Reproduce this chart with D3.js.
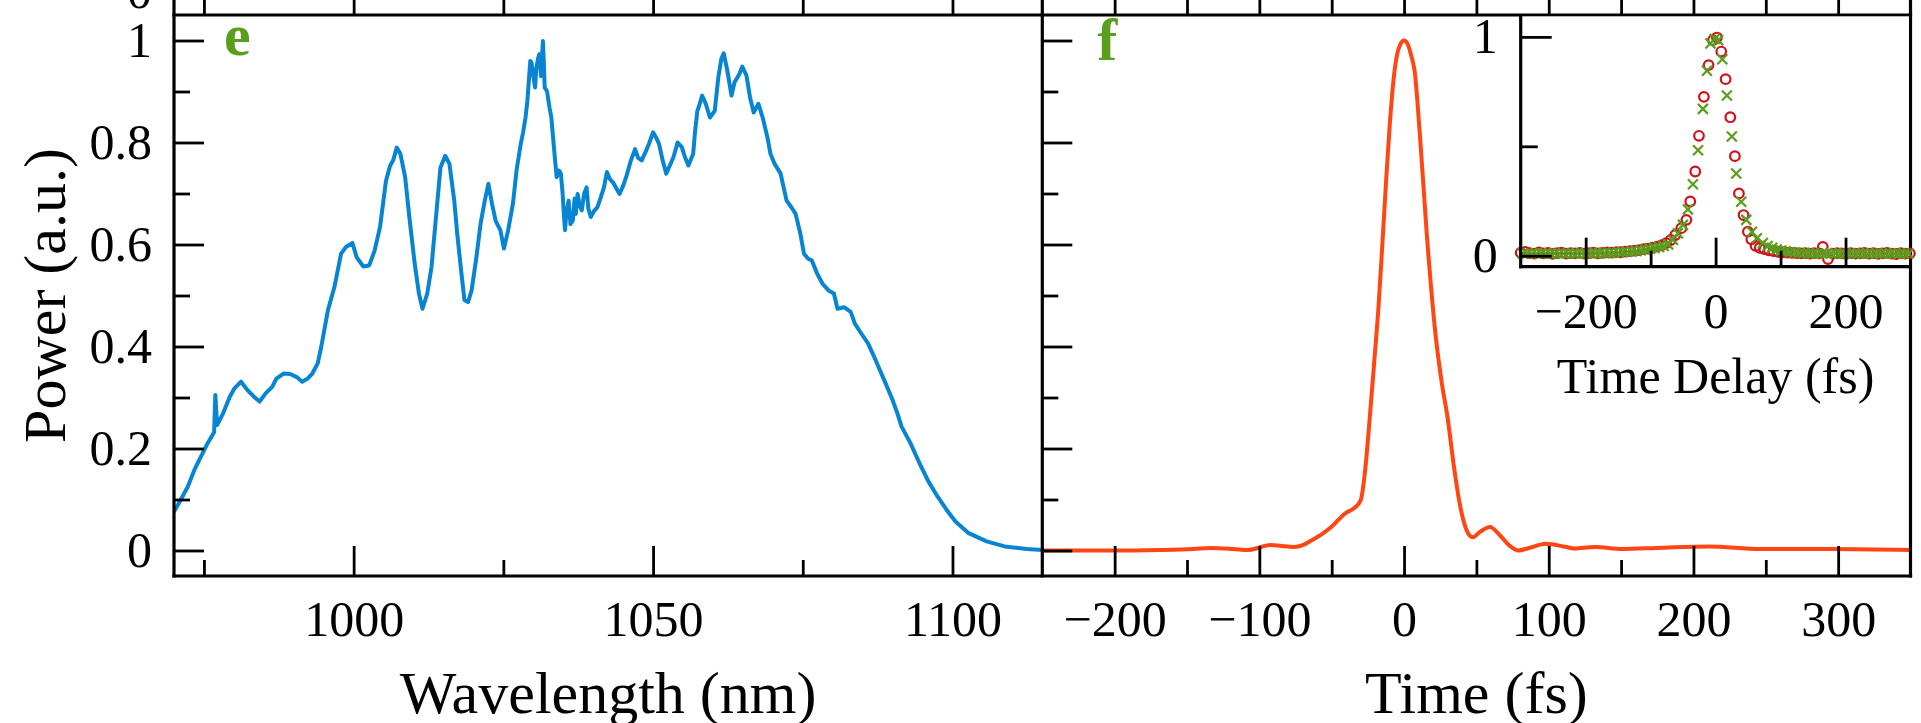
<!DOCTYPE html>
<html>
<head>
<meta charset="utf-8">
<script src="https://cdn.jsdelivr.net/npm/d3@7"></script>
<style>
  html, body { margin: 0; padding: 0; background: #fff; }
  svg { display: block; font-family: "Liberation Serif", "Times New Roman", serif; }
</style>
</head>
<body>
<svg id="chart" width="1921" height="723"></svg>
<script>
// panel e: spectrum, [wavelength nm, power a.u.]
const spectrum = [
  [970.0, 0.076], [971.1, 0.099], [972.3, 0.125], [973.4, 0.158], [974.5, 0.184], [975.6, 0.210],
  [976.4, 0.226], [976.7, 0.232], [976.9, 0.305], [977.2, 0.246], [978.2, 0.269], [979.3, 0.301],
  [980.1, 0.318], [981.2, 0.331], [982.3, 0.314], [983.4, 0.301], [984.3, 0.292], [985.3, 0.308],
  [986.4, 0.321], [987.1, 0.337], [988.3, 0.347], [989.4, 0.346], [990.5, 0.340], [991.4, 0.331],
  [992.3, 0.337], [993.1, 0.347], [994.0, 0.367], [994.6, 0.400], [995.7, 0.471], [996.8, 0.517],
  [997.9, 0.582], [998.7, 0.595], [999.8, 0.603], [1000.5, 0.575], [1001.6, 0.557], [1002.6, 0.559],
  [1003.5, 0.588], [1004.4, 0.634], [1005.4, 0.725], [1006.1, 0.755], [1006.6, 0.765], [1007.2, 0.790],
  [1007.8, 0.778], [1008.6, 0.732], [1009.3, 0.654], [1010.2, 0.562], [1010.9, 0.504], [1011.5, 0.474],
  [1012.3, 0.504], [1013.0, 0.556], [1013.8, 0.660], [1014.5, 0.751], [1015.3, 0.774], [1016.0, 0.758],
  [1016.8, 0.686], [1017.3, 0.621], [1018.0, 0.543], [1018.5, 0.491], [1019.1, 0.487], [1019.7, 0.510],
  [1020.5, 0.575], [1021.2, 0.641], [1021.9, 0.686], [1022.5, 0.719], [1023.1, 0.680], [1023.7, 0.647],
  [1024.5, 0.628], [1025.1, 0.592], [1025.8, 0.628], [1026.6, 0.680], [1027.2, 0.745], [1027.9, 0.797],
  [1028.3, 0.820], [1028.7, 0.849], [1029.0, 0.880], [1029.3, 0.928], [1029.5, 0.960], [1029.7, 0.957],
  [1030.0, 0.930], [1030.3, 0.908], [1030.5, 0.945], [1030.8, 0.965], [1031.0, 0.973], [1031.3, 0.930],
  [1031.6, 0.999], [1031.75, 0.960], [1031.9, 0.908], [1032.3, 0.900], [1032.7, 0.869], [1033.0, 0.850],
  [1033.3, 0.810], [1033.6, 0.770], [1033.9, 0.732], [1034.3, 0.745], [1034.6, 0.739], [1034.9, 0.700],
  [1035.1, 0.660], [1035.3, 0.628], [1035.5, 0.660], [1035.9, 0.686], [1036.2, 0.640], [1036.6, 0.647],
  [1036.9, 0.690], [1037.1, 0.660], [1037.4, 0.699], [1037.8, 0.675], [1038.1, 0.667], [1038.5, 0.700],
  [1038.9, 0.712], [1039.2, 0.670], [1039.6, 0.654], [1040.1, 0.665], [1040.7, 0.673], [1041.2, 0.690],
  [1041.8, 0.712], [1042.3, 0.742], [1042.8, 0.728], [1043.3, 0.722], [1044.4, 0.699], [1045.0, 0.715],
  [1045.5, 0.732], [1046.3, 0.765], [1047.0, 0.787], [1047.5, 0.770], [1048.1, 0.765], [1048.7, 0.780],
  [1049.3, 0.797], [1050.0, 0.820], [1050.5, 0.810], [1051.0, 0.797], [1051.6, 0.765], [1052.2, 0.739],
  [1052.8, 0.755], [1053.4, 0.771], [1054.1, 0.800], [1054.8, 0.791], [1055.3, 0.772], [1055.9, 0.755],
  [1056.7, 0.778], [1057.0, 0.820], [1057.4, 0.862], [1057.7, 0.872], [1058.2, 0.892], [1058.8, 0.876],
  [1059.5, 0.849], [1060.3, 0.862], [1060.9, 0.928], [1061.4, 0.964], [1061.8, 0.975], [1062.4, 0.941],
  [1063.1, 0.892], [1063.6, 0.918], [1064.4, 0.934], [1064.9, 0.949], [1065.6, 0.931], [1066.2, 0.888],
  [1066.8, 0.859], [1067.6, 0.876], [1068.3, 0.849], [1069.1, 0.810], [1069.6, 0.778], [1070.3, 0.758],
  [1071.3, 0.739], [1071.8, 0.712], [1072.3, 0.686], [1073.1, 0.673], [1073.8, 0.660], [1074.6, 0.621],
  [1075.2, 0.582], [1075.9, 0.572], [1076.5, 0.569], [1077.4, 0.543], [1078.3, 0.523], [1079.3, 0.510],
  [1080.2, 0.504], [1080.8, 0.474], [1081.9, 0.477], [1083.0, 0.468], [1083.7, 0.445], [1084.8, 0.425],
  [1085.9, 0.406], [1087.1, 0.375], [1088.6, 0.334], [1089.9, 0.298], [1090.8, 0.269], [1091.5, 0.243],
  [1093.0, 0.210], [1094.5, 0.171], [1096.0, 0.135], [1097.5, 0.106], [1099.0, 0.080], [1100.5, 0.057],
  [1102.7, 0.034], [1105.7, 0.018], [1108.7, 0.008], [1112.4, 0.003], [1115.0, 0.001]
];

// panel f: retrieved pulse, [time fs, power a.u.]
const pulse = [
  [-250, 0.000], [-237.8, 0.000], [-200, 0.000], [-170, 0.001], [-145.6, 0.003], [-134, 0.005],
  [-118, 0.003], [-107.6, 0.001], [-100, 0.006], [-92.6, 0.011], [-84.5, 0.009], [-76.5, 0.007],
  [-69.6, 0.011], [-65, 0.018], [-55.8, 0.034], [-49.9, 0.047], [-40.6, 0.073], [-34.5, 0.083],
  [-29.9, 0.099], [-26.8, 0.160], [-23.7, 0.260], [-20.6, 0.370], [-17.6, 0.480], [-15, 0.600],
  [-12.5, 0.720], [-10, 0.830], [-7, 0.930], [-5, 0.970], [-2.5, 0.993], [0, 1.000], [2.5, 0.993],
  [5, 0.970], [7.3, 0.940], [10.9, 0.817], [15.7, 0.621], [21.7, 0.425], [26, 0.330], [30, 0.262],
  [34.8, 0.158], [38.4, 0.093], [43.2, 0.040], [47.5, 0.026], [52.7, 0.037], [59.4, 0.046], [65.9, 0.031],
  [73.1, 0.009], [79.1, 0.000], [86.3, 0.005], [98.2, 0.013], [110.2, 0.008], [117.4, 0.004],
  [131.7, 0.007], [150.8, 0.003], [174.7, 0.005], [210.6, 0.008], [246.5, 0.003], [294.3, 0.003],
  [350, 0.001]
];

// inset: autocorrelation, [delay fs, signal]
const acMeasured = [
  [-300, 0.014], [-293, 0.018], [-286, 0.012], [-279, 0.010], [-272, 0.015], [-265, 0.011], [-258, 0.013],
  [-251, 0.009], [-244, 0.012], [-237, 0.014], [-230, 0.010], [-223, 0.012], [-216, 0.011], [-209, 0.013],
  [-202, 0.010], [-195, 0.012], [-188, 0.014], [-181, 0.011], [-174, 0.013], [-167, 0.015], [-160, 0.014],
  [-153, 0.017], [-146, 0.016], [-139, 0.019], [-132, 0.021], [-125, 0.023], [-118, 0.026], [-111, 0.030],
  [-104, 0.033], [-97, 0.037], [-90, 0.042], [-83, 0.048], [-76, 0.058], [-69, 0.072], [-62, 0.095],
  [-52.8, 0.126], [-45, 0.164], [-39, 0.248], [-31.3, 0.385], [-25.6, 0.548], [-18, 0.726], [-10.8, 0.871],
  [-4, 0.985], [2, 0.997], [8.7, 0.933], [15.4, 0.807], [22.6, 0.633], [29.7, 0.455], [35.9, 0.285],
  [43, 0.186], [49.7, 0.110], [55, 0.075], [61.5, 0.045], [68, 0.036], [75, 0.030], [82, 0.025], [89, 0.021],
  [96, 0.018], [103, 0.016], [110, 0.014], [117, 0.013], [124, 0.012], [131, 0.011], [138, 0.012],
  [145, 0.010], [152, 0.012], [159, 0.011], [165, 0.040], [173, -0.015], [180, 0.010], [187, 0.012],
  [194, 0.011], [201, 0.009], [208, 0.012], [215, 0.010], [222, 0.011], [229, 0.013], [236, 0.010],
  [243, 0.012], [250, 0.009], [257, 0.011], [264, 0.013], [271, 0.010], [278, 0.008], [285, 0.012],
  [292, 0.010], [299, 0.011]
];
const acRetrieved = [
  [-297, 0.010], [-290, 0.011], [-283, 0.010], [-276, 0.010], [-269, 0.011], [-262, 0.010], [-255, 0.010],
  [-248, 0.011], [-241, 0.010], [-234, 0.010], [-227, 0.011], [-220, 0.010], [-213, 0.011], [-206, 0.011],
  [-199, 0.011], [-192, 0.012], [-185, 0.012], [-178, 0.012], [-171, 0.012], [-164, 0.013], [-157, 0.014],
  [-150, 0.015], [-143, 0.017], [-136, 0.018], [-129, 0.020], [-122, 0.022], [-115, 0.025], [-108, 0.028],
  [-101, 0.032], [-94, 0.036], [-87, 0.040], [-80, 0.045], [-73, 0.052], [-65.6, 0.073], [-58, 0.103],
  [-50.3, 0.141], [-42.6, 0.212], [-34.9, 0.327], [-27, 0.482], [-19.5, 0.671], [-13.3, 0.845], [-8, 0.970],
  [-1.5, 0.990], [4, 0.985], [10.3, 0.898], [17.4, 0.732], [25, 0.545], [31.8, 0.376], [39.5, 0.247],
  [47.2, 0.164], [55.9, 0.110], [63.6, 0.080], [72.8, 0.058], [80, 0.045], [87, 0.036], [94, 0.029],
  [101, 0.024], [108, 0.020], [115, 0.017], [122, 0.015], [129, 0.013], [136, 0.012], [143, 0.011],
  [150, 0.011], [157, 0.010], [164, 0.011], [171, 0.010], [178, 0.010], [185, 0.011], [192, 0.010],
  [199, 0.010], [206, 0.011], [213, 0.010], [220, 0.010], [227, 0.011], [234, 0.010], [241, 0.010],
  [248, 0.011], [255, 0.010], [262, 0.010], [269, 0.011], [276, 0.010], [283, 0.010], [290, 0.011],
  [297, 0.010]
];

const wlMajor = [1000, 1050, 1100];
const wlMinor = [975, 1025, 1075];
const timeMajor = [-200, -100, 0, 100, 200, 300];
const timeMinor = [-150, -50, 50, 150, 250];
const powerMajor = [0, 0.2, 0.4, 0.6, 0.8, 1];
const powerMinor = [0.1, 0.3, 0.5, 0.7, 0.9];
const delayMajor = [-200, 0, 200];
const delayMinor = [-100, 100];
const acMajor = [0, 1];
const acMinor = [0.5];

const blue = '#0785d2';
const orange = '#ff4613';
const green = '#5a9e1e';
const red = '#d2101c';

const svg = d3.select('#chart');
const pL = 174, pM = 1042.3, pR = 1910.5, pT = 15, pB = 576;
const inL = 1520.7, inB = 266.7;

const xE = d3.scaleLinear().domain([970, 1115]).range([pL, pM]);
const xF = d3.scaleLinear().domain([-250, 350]).range([pM, pR]);
const y = d3.scaleLinear().domain([-0.05, 1.05]).range([pB, pT]);
const xI = d3.scaleLinear().domain([-300, 300]).range([inL, pR]);
const yI = d3.scaleLinear().domain([-0.05, 1.1]).range([inB, pT]);

const fmt = d3.format('~g');

const defs = svg.append('defs');
defs.append('clipPath').attr('id', 'clip-e')
  .append('rect').attr('x', pL).attr('y', pT).attr('width', pM - pL).attr('height', pB - pT);
defs.append('clipPath').attr('id', 'clip-f')
  .append('rect').attr('x', pM).attr('y', pT).attr('width', pR - pM).attr('height', pB - pT);

// data lines
svg.append('path')
  .datum(spectrum)
  .attr('clip-path', 'url(#clip-e)')
  .attr('fill', 'none')
  .attr('stroke', blue)
  .attr('stroke-width', 4)
  .attr('stroke-linejoin', 'round')
  .attr('d', d3.line().x(d => xE(d[0])).y(d => y(d[1])));

svg.append('path')
  .datum(pulse)
  .attr('clip-path', 'url(#clip-f)')
  .attr('fill', 'none')
  .attr('stroke', orange)
  .attr('stroke-width', 4)
  .attr('d', d3.line().curve(d3.curveMonotoneX).x(d => xF(d[0])).y(d => y(d[1])));

function styleAxis(g, size) {
  g.select('.domain').remove();
  g.selectAll('.tick line').attr('stroke', '#000').attr('stroke-width', 2.8);
  g.selectAll('.tick text').attr('fill', '#000').attr('font-size', size);
  g.attr('font-family', null);
}

function ticks(axis, pos, vals, len, pad, labels, size = 50) {
  const g = svg.append('g').attr('transform', pos)
    .call(axis.tickValues(vals).tickSize(len).tickPadding(pad).tickFormat(labels ? fmt : () => ''));
  styleAxis(g, size);
  return g;
}

// panel e axes
ticks(d3.axisBottom(xE), `translate(0,${pB})`, wlMajor, -30, 24.5, true);
ticks(d3.axisBottom(xE), `translate(0,${pB})`, wlMinor, -16, 0, false);
ticks(d3.axisLeft(y), `translate(${pL},0)`, powerMajor, -30, 22, true);
ticks(d3.axisLeft(y), `translate(${pL},0)`, powerMinor, -16, 0, false);

// panel f axes
ticks(d3.axisBottom(xF), `translate(0,${pB})`, timeMajor, -30, 24.5, true);
ticks(d3.axisBottom(xF), `translate(0,${pB})`, timeMinor, -16, 0, false);
ticks(d3.axisLeft(y), `translate(${pM},0)`, powerMajor, -30, 0, false);
ticks(d3.axisLeft(y), `translate(${pM},0)`, powerMinor, -16, 0, false);

// the panels above share these axes: their ticks poke into the top strip
ticks(d3.axisTop(xE), `translate(0,${pT})`, wlMajor, 30, 0, false);
ticks(d3.axisTop(xE), `translate(0,${pT})`, wlMinor, 16, 0, false);
ticks(d3.axisTop(xF), `translate(0,${pT})`, timeMajor, 30, 0, false);
ticks(d3.axisTop(xF), `translate(0,${pT})`, timeMinor, 16, 0, false);
svg.append('text')
  .attr('x', pL - 22).attr('y', -8).attr('dy', '0.32em')
  .attr('text-anchor', 'end').attr('font-size', 50)
  .text('0');

// frame
const frame = svg.append('g').attr('stroke', '#000').attr('stroke-width', 3.2).attr('fill', 'none');
frame.append('line').attr('x1', pL - 1.6).attr('x2', pR + 1.6).attr('y1', pT).attr('y2', pT);
frame.append('line').attr('x1', pL - 1.6).attr('x2', pR + 1.6).attr('y1', pB).attr('y2', pB);
[pL, pM, pR].forEach(x => {
  frame.append('line').attr('x1', x).attr('x2', x).attr('y1', 0).attr('y2', pB + 1.6);
});

// inset
const inset = svg.append('g');
inset.append('rect')
  .attr('x', inL).attr('y', pT + 1.6)
  .attr('width', pR - inL - 1.6).attr('height', inB - pT - 1.6)
  .attr('fill', '#fff');

inset.append('g').selectAll('circle')
  .data(acMeasured)
  .join('circle')
  .attr('cx', d => xI(d[0]))
  .attr('cy', d => yI(d[1]))
  .attr('r', 4.8)
  .attr('fill', 'none')
  .attr('stroke', red)
  .attr('stroke-width', 2.2);

const xs = 5;
inset.append('g').selectAll('path')
  .data(acRetrieved)
  .join('path')
  .attr('transform', d => `translate(${xI(d[0])},${yI(d[1])})`)
  .attr('d', `M${-xs},${-xs}L${xs},${xs}M${-xs},${xs}L${xs},${-xs}`)
  .attr('stroke', green)
  .attr('stroke-width', 2.2);

ticks(d3.axisBottom(xI), `translate(0,${inB})`, delayMajor, -29, 26, true);
ticks(d3.axisBottom(xI), `translate(0,${inB})`, delayMinor, -16, 0, false);
ticks(d3.axisLeft(yI), `translate(${inL},0)`, acMajor, -31, 23, true);
ticks(d3.axisLeft(yI), `translate(${inL},0)`, acMinor, -17, 0, false);

inset.append('line').attr('stroke', '#000').attr('stroke-width', 3.2)
  .attr('x1', inL).attr('x2', inL).attr('y1', pT).attr('y2', inB + 1.6);
inset.append('line').attr('stroke', '#000').attr('stroke-width', 3.2)
  .attr('x1', inL - 1.6).attr('x2', pR).attr('y1', inB).attr('y2', inB);

// titles
svg.append('text')
  .attr('x', (pL + pM) / 2).attr('y', 713)
  .attr('text-anchor', 'middle').attr('font-size', 60)
  .text('Wavelength (nm)');
svg.append('text')
  .attr('x', (pM + pR) / 2).attr('y', 713)
  .attr('text-anchor', 'middle').attr('font-size', 60)
  .text('Time (fs)');
svg.append('text')
  .attr('transform', `translate(65,${(pT + pB) / 2}) rotate(-90)`)
  .attr('text-anchor', 'middle').attr('font-size', 60)
  .text('Power (a.u.)');
svg.append('text')
  .attr('x', (inL + pR) / 2).attr('y', 393)
  .attr('text-anchor', 'middle').attr('font-size', 50)
  .text('Time Delay (fs)');

// panel letters
svg.append('text')
  .attr('x', pL + 50).attr('y', 55)
  .attr('font-size', 60).attr('font-weight', 'bold').attr('fill', green)
  .text('e');
svg.append('text')
  .attr('x', pM + 55).attr('y', 60)
  .attr('font-size', 60).attr('font-weight', 'bold').attr('fill', green)
  .text('f');
</script>
</body>
</html>
